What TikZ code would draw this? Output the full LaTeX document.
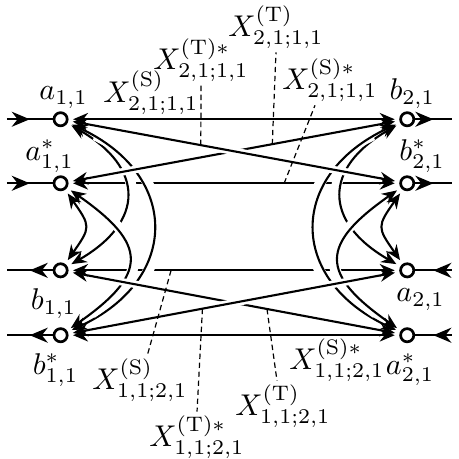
\documentclass[tikz,border=0pt]{standalone}
\usepackage{amsmath}
\usetikzlibrary{arrows.meta,decorations.markings}

\tikzset{
	port/.style={circle,draw,line width=0.9pt,fill=white,inner sep=0pt,minimum size=4.4pt},
	link/.style={line width=0.7pt,<->,shorten <=1.5pt,shorten >=1.5pt},
	hop/.style={preaction={draw=white,line width=#1,-,shorten <=10pt,shorten >=10pt}},
	hop/.default=3.5pt,
	inout/.style={line width=0.7pt,postaction={decorate},
		decoration={markings,mark=at position 0.5 with {\arrow{Stealth[length=6pt,width=5pt]}}}},
	leader/.style={line width=0.4pt,dash pattern=on 1.8pt off 1.2pt},
	tag/.style={inner sep=1pt},
}

\begin{document}
\begin{tikzpicture}[>={Stealth[length=5pt,width=4.2pt]}]
	\useasboundingbox (0,0) rectangle (5.377,5.377);
	% ports
	\node[port,label={[xshift=1pt,yshift=-2.5pt]above:$a_{1,1}$}] (A11) at (0.71,3.98) {};
	\node[port,label={[xshift=-3.7pt,yshift=-2.5pt]above:$a^*_{1,1}$}] (A11s) at (0.71,3.23) {};
	\node[port,label={[xshift=-2.3pt]below:$b_{1,1}$}] (B11) at (0.71,2.21) {};
	\node[port,label={[xshift=-1.7pt]below:$b^*_{1,1}$}] (B11s) at (0.71,1.45) {};
	\node[port,label={[xshift=1.7pt,yshift=-2.5pt]above:$b_{2,1}$}] (B21) at (4.77,3.98) {};
	\node[port,label={[xshift=5pt,yshift=-2.5pt]above:$b^*_{2,1}$}] (B21s) at (4.77,3.23) {};
	\node[port,label={[xshift=4.5pt]below:$a_{2,1}$}] (A21) at (4.77,2.21) {};
	\node[port,label={[xshift=1pt]below:$a^*_{2,1}$}] (A21s) at (4.77,1.45) {};
	% outer lines
	\coordinate (L1) at (0.08,3.98);
	\coordinate (L2) at (0.08,3.23);
	\coordinate (L3) at (0.08,2.21);
	\coordinate (L4) at (0.08,1.45);
	\coordinate (R1) at (5.29,3.98);
	\coordinate (R2) at (5.29,3.23);
	\coordinate (R3) at (5.29,2.21);
	\coordinate (R4) at (5.29,1.45);
	\draw[inout] (L1) -- (A11);
	\draw[inout] (L2) -- (A11s);
	\draw[inout] (B11) -- (L3);
	\draw[inout] (B11s) -- (L4);
	\draw[inout] (B21) -- (R1);
	\draw[inout] (B21s) -- (R2);
	\draw[inout] (R3) -- (A21);
	\draw[inout] (R4) -- (A21s);
	% straight links
	\draw[link] (A11) -- (B21);
	\draw[link] (A11s) -- (B21s) coordinate[pos=0.652] (pSs21);
	\draw[link] (B11) -- (A21) coordinate[pos=0.31] (pS12);
	\draw[link] (B11s) -- (A21s);
	% bent links, left
	\draw[link,hop] (A11) to[out=-30,in=30,looseness=1.6] (B11);
	\draw[link,hop] (A11) to[out=-25,in=25,looseness=1.52] (B11s);
	\draw[link] (A11s) to[out=-55,in=55,looseness=1.55] (B11);
	\draw[link,hop] (A11s) to[out=-35,in=35,looseness=1.78] (B11s);
	% bent links, right
	\draw[link,hop] (B21) to[out=210,in=150,looseness=1.6] (A21);
	\draw[link,hop] (B21) to[out=205,in=155,looseness=1.52] (A21s);
	\draw[link] (B21s) to[out=235,in=125,looseness=1.55] (A21);
	\draw[link,hop] (B21s) to[out=215,in=145,looseness=1.78] (A21s);
	% crossing links
	\draw[link,hop=2.5pt] (A11s) -- (B21) coordinate[pos=0.616] (pT21);
	\draw[link,hop=2.5pt] (A11) -- (B21s) coordinate[pos=0.4] (pTs21);
	\draw[link,hop=2.5pt] (B11) -- (A21s) coordinate[pos=0.6] (pT12);
	\draw[link,hop=2.5pt] (B11s) -- (A21) coordinate[pos=0.405] (pTs12);
	% coefficient labels
	\node[tag] (XT21) at (3.233,5.061) {$X^{(\mathrm{T})}_{2,1;1,1}$};
	\node[tag] (XTs21) at (2.355,4.674) {$X^{(\mathrm{T})*}_{2,1;1,1}$};
	\node[tag] (XS21) at (1.769,4.288) {$X^{(\mathrm{S})}_{2,1;1,1}$};
	\node[tag] (XSs21) at (3.866,4.44) {$X^{(\mathrm{S})*}_{2,1;1,1}$};
	\node[tag] (XS12) at (1.64,0.925) {$X^{(\mathrm{S})}_{1,1;2,1}$};
	\node[tag] (XTs12) at (2.308,0.258) {$X^{(\mathrm{T})*}_{1,1;2,1}$};
	\node[tag] (XT12) at (3.315,0.621) {$X^{(\mathrm{T})}_{1,1;2,1}$};
	\node[tag] (XSs12) at (3.948,1.16) {$X^{(\mathrm{S})*}_{1,1;2,1}$};
	\draw[leader] (pT21) -- (XT21.south);
	\draw[leader] (pTs21) -- (XTs21.south);
	\draw[leader] (pSs21) -- ([xshift=-5pt]XSs21.south);
	\draw[leader] (pS12) -- ([xshift=2.5pt]XS12.north);
	\draw[leader] (pTs12) -- (XTs12.north);
	\draw[leader] (pT12) -- ([xshift=-2pt]XT12.north);
\end{tikzpicture}
\end{document}
